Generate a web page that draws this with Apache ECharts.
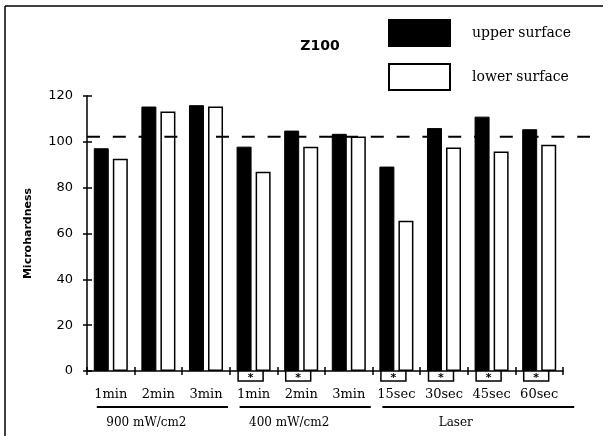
<!DOCTYPE html>
<html>
<head>
<meta charset="utf-8">
<script src="https://cdn.jsdelivr.net/npm/echarts@6/dist/echarts.min.js"></script>
<style>
html,body{margin:0;padding:0;background:#fff;}
#chart{width:611px;height:436px;}
</style>
</head>
<body>
<div id="chart"></div>
<script>
// ---- data ----
const categories = ['1min', '2min', '3min', '1min', '2min', '3min', '15sec', '30sec', '45sec', '60sec'];
const upperSurface = [97.2, 115.4, 116.0, 97.9, 104.9, 103.5, 89.2, 106.0, 111.0, 105.5];
const lowerSurface = [92.6, 113.2, 115.4, 87.0, 97.9, 102.3, 65.6, 97.5, 95.8, 98.7];
const significant = [0, 0, 0, 1, 1, 0, 1, 1, 1, 1];
const groupNames = ['900 mW/cm2', '400 mW/cm2', 'Laser'];
const groupStart = [0, 3, 6];
const groupEnd = [2, 5, 9];
const referenceLevel = 102.2;
const yMin = 0, yMax = 120, yStep = 20;

// ---- derived series data ----
const starData = [];
significant.forEach((f, i) => { if (f) starData.push([i, 0]); });
const groupData = groupNames.map((n, i) => [groupStart[i], 0, groupEnd[i], i]);

const chart = echarts.init(document.getElementById('chart'));
const serif = 'DejaVu Serif';
const sans = 'DejaVu Sans';

const option = {
  animation: false,
  backgroundColor: '#fff',
  grid: { left: 87, right: 48, top: 96, bottom: 65 },
  legend: {
    left: 383, top: 14, orient: 'vertical',
    itemWidth: 61, itemHeight: 26, itemGap: 16,
    selectedMode: false, icon: 'rect',
    textStyle: { fontFamily: serif, fontSize: 14, color: '#000', padding: [0, 0, 0, 17] },
    data: ['upper surface', 'lower surface']
  },
  graphic: [
    { type: 'line', shape: { x1: 5, y1: 6, x2: 603, y2: 6 }, style: { stroke: '#000', lineWidth: 1.5 } },
    { type: 'line', shape: { x1: 5, y1: 6, x2: 5, y2: 436 }, style: { stroke: '#000', lineWidth: 1.5 } },
    { type: 'text', x: 320, y: 46, style: { text: 'Z100', font: 'bold 14px "DejaVu Sans"', fill: '#000', textAlign: 'center', textVerticalAlign: 'middle' } }
  ],
  xAxis: [{
    type: 'category', data: categories, position: 'bottom',
    axisLine: { lineStyle: { color: '#000', width: 1.5 } },
    axisTick: { show: true, length: 4, lineStyle: { color: '#000', width: 1.5 } },
    axisLabel: { color: '#000', fontFamily: serif, fontSize: 13, margin: 17, interval: 0 },
    splitLine: { show: false }
  }, {
    type: 'category', data: categories, position: 'bottom',
    axisLine: { show: false },
    axisTick: { show: true, inside: true, length: 4, lineStyle: { color: '#000', width: 1.5 } },
    axisLabel: { show: false }, splitLine: { show: false }
  }],
  yAxis: [{
    type: 'value', min: yMin, max: yMax, interval: yStep,
    name: 'Microhardness', nameLocation: 'middle', nameGap: 53,
    nameTextStyle: { color: '#000', fontFamily: sans, fontSize: 11, fontWeight: 'bold' },
    axisLine: { show: true, lineStyle: { color: '#000', width: 1.5 } },
    axisTick: { show: true, length: 4, lineStyle: { color: '#000', width: 1.5 } },
    axisLabel: { color: '#000', fontFamily: sans, fontSize: 13, margin: 14 },
    splitLine: { show: false }
  }, {
    type: 'value', min: yMin, max: yMax, interval: yStep, position: 'left',
    axisLine: { show: false },
    axisTick: { show: true, inside: true, length: 5, lineStyle: { color: '#000', width: 1.5 } },
    axisLabel: { show: false }, splitLine: { show: false }
  }],
  series: [
    {
      name: 'upper surface', type: 'bar', data: upperSurface,
      barWidth: 15, barGap: '27%',
      itemStyle: { color: '#000', borderColor: '#000', borderWidth: 1 }, z: 2
    },
    {
      name: 'lower surface', type: 'bar', data: lowerSurface,
      barWidth: 15, barGap: '27%',
      itemStyle: { color: '#fff', borderColor: '#000', borderWidth: 1.5 }, z: 2
    },
    {
      name: 'ref', type: 'custom', data: [[0, referenceLevel]], clip: false, z: 5,
      encode: { x: 0, y: 1 }, silent: true,
      renderItem: function (params, api) {
        const cs = params.coordSys;
        const p = api.coord([0, api.value(1)]);
        return {
          type: 'line',
          shape: { x1: cs.x, y1: p[1], x2: cs.x + cs.width + 27, y2: p[1] },
          style: { stroke: '#000', lineWidth: 2, lineDash: [13, 12.8] }
        };
      }
    },
    {
      name: 'stars', type: 'custom', data: starData, clip: false, z: 5,
      encode: { x: 0, y: 1 }, silent: true,
      renderItem: function (params, api) {
        const p = api.coord([api.value(0), 0]);
        const cx = p[0] - 3, y = p[1];
        return {
          type: 'group',
          children: [
            { type: 'polyline', shape: { points: [[cx - 12.5, y], [cx - 12.5, y + 10], [cx + 12.5, y + 10], [cx + 12.5, y]] },
              style: { stroke: '#000', lineWidth: 1.5, fill: null } },
            { type: 'text', x: cx, y: y + 7, style: { text: '*', font: 'bold 11px "DejaVu Sans"', fill: '#000', textAlign: 'center', textVerticalAlign: 'middle' } }
          ]
        };
      }
    },
    {
      name: 'groups', type: 'custom', data: groupData, clip: false, z: 5,
      encode: { x: 0, y: 1 }, silent: true,
      renderItem: function (params, api) {
        const a = api.coord([api.value(0), 0]);
        const b = api.coord([api.value(2), 0]);
        const idx = api.value(3);
        const y = a[1];
        const mid = (a[0] + b[0]) / 2 - 12;
        return {
          type: 'group',
          children: [
            { type: 'line', shape: { x1: a[0] - 14, y1: y + 36, x2: b[0] + (idx === 2 ? 35 : 22), y2: y + 36 },
              style: { stroke: '#000', lineWidth: 2 } },
            { type: 'text', x: mid, y: y + 52, style: { text: groupNames[idx], font: '12px "DejaVu Serif"', fill: '#000', textAlign: 'center', textVerticalAlign: 'middle' } }
          ]
        };
      }
    }
  ]
};
chart.setOption(option);
</script>
</body>
</html>
